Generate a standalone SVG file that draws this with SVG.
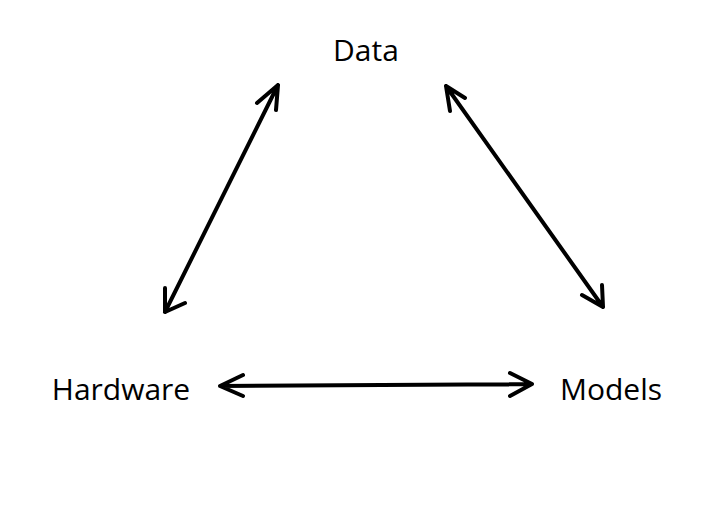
<svg xmlns="http://www.w3.org/2000/svg" width="718" height="518" viewBox="0 0 718 518">
<style>
.lbl{font-family:"Open Sans","Noto Sans",sans-serif;font-size:30px;fill:#000}
.ln{stroke:#000;stroke-width:4;fill:none;stroke-linecap:round;stroke-linejoin:round}
</style>
<rect width="718" height="518" fill="#fff"/>
<g id="data"><text class="lbl" x="366" y="61" text-anchor="middle">Data</text></g>
<g id="hardware"><text class="lbl" x="121" y="400" text-anchor="middle">Hardware</text></g>
<g id="models"><text class="lbl" x="611" y="400" text-anchor="middle">Models</text></g>
<g id="connectors">
<path class="ln" d="M278,85 L165,312 M257,103 L278,85 L276,110 M165,288 L165,312 L185,303"/>
<path class="ln" d="M446,86 L603,307 M450,111 L446,86 L465,98 M602,285 L603,307 L582,295"/>
<path class="ln" d="M220,386 L532,384 M243,375 L220,386 L243,396 M510,373 L532,384 L510,396"/>
</g>
</svg>
